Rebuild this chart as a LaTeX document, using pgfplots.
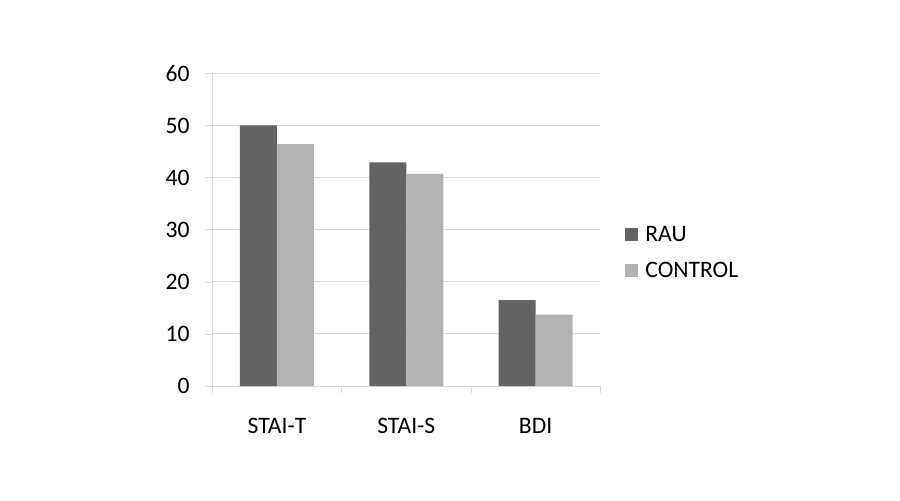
\documentclass[border=0pt]{standalone}
\usepackage{pgfplots}
\pgfplotsset{compat=1.18}
\usepackage{fontspec}
\setmainfont{Carlito}
\definecolor{rau}{HTML}{636363}
\definecolor{ctrl}{HTML}{B2B2B2}
\definecolor{gridc}{HTML}{D9D9D9}
\begin{document}
\begin{tikzpicture}
\useasboundingbox (0,0) rectangle (450pt,250pt);
\begin{axis}[
  at={(106.15pt,57pt)}, anchor=south west,
  scale only axis, width=194pt, height=156.35pt,
  font=\fontsize{11.8pt}{14pt}\selectfont,
  /pgf/number format/assume math mode=true,
  xmin=-0.5, xmax=2.5, ymin=0, ymax=60,
  ytick={0,10,...,60},
  xtick={-0.5,0.5,1.5,2.5}, xticklabels={},
  extra x ticks={0,1,2}, extra x tick labels={STAI-T,STAI-S,BDI},
  extra x tick style={tick style={draw=none}},
  axis lines=left, axis line style={-, draw=gridc},
  tick align=outside, major tick length=3.5pt,
  tick style={draw=gridc},
  ymajorgrids, grid style={draw=gridc},
  yticklabel style={inner sep=0pt, xshift=-7.65pt},
  xticklabel style={inner sep=0pt, yshift=-12.3pt},
  ybar=0pt, bar width=0.286,
  legend style={at={(1,0.4285)}, anchor=west, xshift=12.35pt, draw=none, fill=none, inner sep=0pt,
    row sep=10.4pt, column sep=3.5pt,
    nodes={inner sep=0pt, text height=7.6pt, text depth=0pt}},
  legend cell align=left,
  legend image code/.code={\fill[#1] (0pt,-3.25pt) rectangle (6.5pt,3.25pt);},
]
\addplot[fill=rau, draw=none] coordinates {(0,50) (1,42.9) (2,16.5)};
\addplot[fill=ctrl, draw=none] coordinates {(0,46.4) (1,40.7) (2,13.7)};
\legend{RAU,CONTROL}
\end{axis}
\end{tikzpicture}
\end{document}
